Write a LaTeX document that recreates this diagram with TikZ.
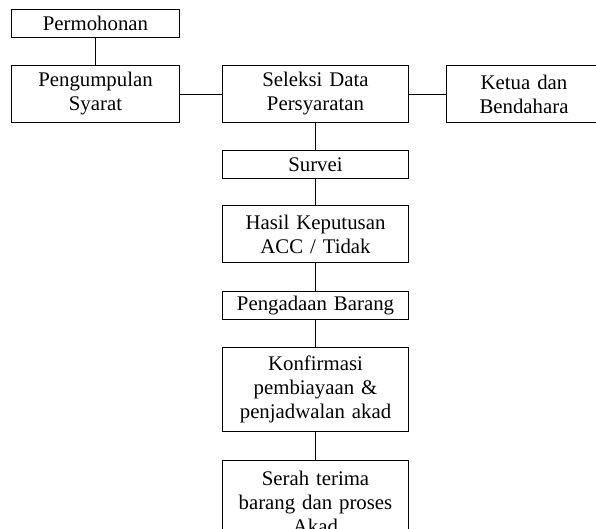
\documentclass[tikz,border=0pt]{standalone}
\usepackage{fontspec}
\setmainfont{Liberation Serif}
\usetikzlibrary{positioning}

\begin{document}
\begin{tikzpicture}[x=1pt, y=-1pt, node distance=27pt,
    box/.style={rectangle, draw, line width=1pt, inner sep=2pt, align=center,
      font=\fontsize{20.8}{24}\selectfont},
    midbox/.style={box, text width=182pt},
    sidebox/.style={box, text width=164pt},
    link/.style={draw, line width=1pt}]

    \useasboundingbox (0,0) rectangle (596,528);
    \clip (0,0) rectangle (596,528);

    \node[midbox, minimum height=57pt] (seleksi) at (315.5,94) {Seleksi Data\\Persyaratan};
    \node[sidebox, minimum height=57pt, left=42pt of seleksi] (syarat) {Pengumpulan\\Syarat};
    \node[sidebox, minimum height=28pt, above=27pt of syarat] (mohon) {Permohonan};
    \node[box, text width=151pt, minimum height=57pt, right=37pt of seleksi] (ketua) {Ketua dan\\Bendahara};
    \node[midbox, minimum height=28pt, below=of seleksi] (survei) {Survei};
    \node[midbox, minimum height=57pt, below=26pt of survei] (hasil) {Hasil Keputusan\\ACC / Tidak};
    \node[midbox, minimum height=28pt, below=28pt of hasil] (adaan) {Pengadaan Barang};
    \node[midbox, minimum height=84pt, below=of adaan] (konfirmasi) {Konfirmasi\\pembiayaan \&\\penjadwalan akad};
    \node[midbox, minimum height=84pt, below=28pt of konfirmasi] (serah) {Serah terima\\barang dan proses\\Akad};

    \draw[link] (mohon) -- (syarat);
    \draw[link] (syarat) -- (seleksi);
    \draw[link] (seleksi) -- (ketua);
    \draw[link] (seleksi) -- (survei);
    \draw[link] (survei) -- (hasil);
    \draw[link] (hasil) -- (adaan);
    \draw[link] (adaan) -- (konfirmasi);
    \draw[link] (konfirmasi) -- (serah);
\end{tikzpicture}
\end{document}
